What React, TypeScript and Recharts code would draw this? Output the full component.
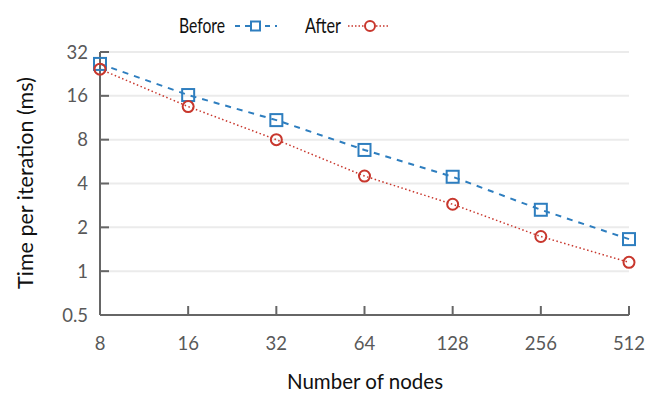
import React from "react";
import { LineChart, Line, XAxis, YAxis, CartesianGrid } from "recharts";

const nodes = ["8", "16", "32", "64", "128", "256", "512"];
const before = [26.5, 16.2, 10.9, 6.8, 4.45, 2.64, 1.66];
const after = [24.4, 13.5, 8.0, 4.5, 2.88, 1.73, 1.15];
const yTicks = [0.5, 1, 2, 4, 8, 16, 32];

const data = nodes.map((n, i) => ({ nodes: n, before: before[i], after: after[i] }));

const FONT = "Lato, 'Open Sans', sans-serif";
const BLUE = "#2e7ebf";
const RED = "#c8372d";
const AXIS = "#666666";
const TICKTXT = "#595959";

const YTick = (props: any) => {
  const { x, y, payload } = props;
  return (
    <g>
      <line x1={x} y1={y} x2={x + 9} y2={y} stroke={AXIS} strokeWidth={2} />
      <text x={x - 12} y={y} dy={6.5} textAnchor="end" fill={TICKTXT} fontSize={18.5} fontFamily={FONT}>
        {payload.value}
      </text>
    </g>
  );
};

const XTick = (props: any) => {
  const { x, y, payload } = props;
  return (
    <g>
      <line x1={x} y1={y} x2={x} y2={y - 9} stroke={AXIS} strokeWidth={2} />
      <text x={x} y={y + 35} textAnchor="middle" fill={TICKTXT} fontSize={18.5} fontFamily={FONT}>
        {payload.value}
      </text>
    </g>
  );
};

const SquareDot = (props: any) => {
  const { cx, cy, index } = props;
  if (cx == null || cy == null) return <g key={index} />;
  return <rect key={index} x={cx - 6} y={cy - 6} width={12} height={12} fill="none" stroke={BLUE} strokeWidth={2} />;
};

const CircleDot = (props: any) => {
  const { cx, cy, index } = props;
  if (cx == null || cy == null) return <g key={index} />;
  return <circle key={index} cx={cx} cy={cy} r={5.5} fill="none" stroke={RED} strokeWidth={2} />;
};

export default function App() {
  return (
    <div style={{ position: "absolute", left: 0, top: 0, width: 664, height: 399, background: "#fff" }}>
      <LineChart width={664} height={399} data={data} margin={{ top: 52, right: 35, bottom: 0, left: 0 }}>
        <CartesianGrid horizontal vertical={false} stroke="#ebebeb" strokeWidth={2} />
        <XAxis
          dataKey="nodes"
          type="category"
          tickSize={0}
          tickMargin={0}
          tick={<XTick />}
          tickLine={false}
          axisLine={{ stroke: AXIS, strokeWidth: 2 }}
          interval={0}
          height={84}
        />
        <YAxis
          scale="log"
          domain={[0.5, 32]}
          ticks={yTicks}
          allowDataOverflow
          tickSize={0}
          tickMargin={0}
          tick={<YTick />}
          tickLine={false}
          axisLine={{ stroke: AXIS, strokeWidth: 2 }}
          interval={0}
          width={100}
        />
        <Line
          dataKey="before"
          stroke={BLUE}
          strokeWidth={2}
          strokeDasharray="6 6"
          dot={<SquareDot />}
          isAnimationActive={false}
        />
        <Line
          dataKey="after"
          stroke={RED}
          strokeWidth={1.5}
          strokeDasharray="1.5 2.5"
          dot={<CircleDot />}
          isAnimationActive={false}
        />
      </LineChart>
      <svg width={664} height={45} style={{ position: "absolute", left: 0, top: 0 }}>
        <text x={179} y={33} fontSize={20.5} fontFamily={FONT} fill="#111" textLength={46} lengthAdjust="spacingAndGlyphs">Before</text>
        <line x1={235} y1={26} x2={277} y2={26} stroke={BLUE} strokeWidth={2} strokeDasharray="5 5" />
        <rect x={251} y={21.5} width={9} height={9} fill="#fff" stroke={BLUE} strokeWidth={2} />
        <text x={305} y={33} fontSize={20.5} fontFamily={FONT} fill="#111" textLength={36} lengthAdjust="spacingAndGlyphs">After</text>
        <line x1={348} y1={26} x2={389} y2={26} stroke={RED} strokeWidth={1.5} strokeDasharray="1.5 2" />
        <circle cx={370} cy={26} r={5} fill="#fff" stroke={RED} strokeWidth={2} />
      </svg>
      <div
        style={{
          position: "absolute",
          left: 25,
          top: 183,
          transform: "translate(-50%, -50%) rotate(-90deg)",
          fontFamily: FONT,
          fontSize: 21.5,
          color: "#111",
          whiteSpace: "nowrap",
        }}
      >
        Time per iteration (ms)
      </div>
      <div
        style={{
          position: "absolute",
          left: 365,
          top: 381,
          transform: "translate(-50%, -50%)",
          fontFamily: FONT,
          fontSize: 20.5,
          color: "#111",
          whiteSpace: "nowrap",
        }}
      >
        Number of nodes
      </div>
    </div>
  );
}
